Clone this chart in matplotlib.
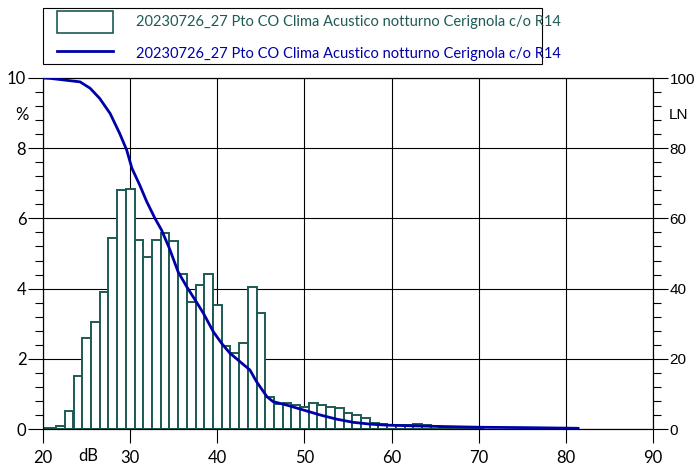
import matplotlib
matplotlib.use("Agg")
import matplotlib.pyplot as plt
from matplotlib.ticker import MultipleLocator
from matplotlib.patches import Patch, Rectangle
from matplotlib.lines import Line2D

# histogram: level class (dB) and share of time (%)
hist_db = list(range(20, 71))
hist_pct = [0.04, 0.04, 0.09, 0.52, 1.51, 2.58, 3.05, 3.89, 5.43, 6.80,
            6.83, 5.39, 4.90, 5.38, 5.57, 5.37, 4.42, 3.62, 4.11, 4.42,
            3.53, 2.37, 2.17, 2.44, 4.04, 3.31, 0.92, 0.70, 0.73, 0.69,
            0.62, 0.73, 0.69, 0.64, 0.61, 0.45, 0.39, 0.32, 0.18, 0.14,
            0.12, 0.10, 0.12, 0.14, 0.12, 0.08, 0.06, 0.05, 0.04, 0.03,
            0.02]

# LN curve (percent of time the level is exceeded)
ln_db = [20.0, 20.8, 24.25, 25.4, 26.5, 27.7, 28.8, 29.6, 30.2, 31.1,
         31.9, 32.85, 33.6, 34.5, 35.5, 36.5, 37.45, 38.4, 39.55, 40.5,
         41.45, 42.6, 43.75, 44.5, 45.2, 45.7, 46.4, 48.0, 49.9, 51.8,
         53.7, 55.6, 57.5, 59.4, 61.0, 65.0, 70.0, 75.0, 80.0, 81.4]
ln_val = [100.0, 99.9, 98.9, 97.1, 94.2, 89.9, 84.2, 79.5, 74.3, 69.5,
          64.8, 60.0, 56.7, 51.5, 44.8, 40.5, 36.8, 33.0, 27.7, 24.4,
          21.6, 19.2, 16.8, 13.5, 11.0, 9.2, 7.8, 6.8, 5.4, 4.0,
          2.8, 1.9, 1.4, 1.1, 1.0, 0.75, 0.5, 0.4, 0.25, 0.2]

label = "20230726_27 Pto CO Clima Acustico notturno Cerignola c/o R14"
teal = "#1d5a55"
blue = "#0000a8"
left_font = "Lato"
W, H = 695, 469

fig = plt.figure(figsize=(6.95, 4.69), dpi=100)
ax = fig.add_axes([43 / W, 40 / H, 610 / W, 351 / H])

ax.bar(hist_db, hist_pct, width=1.0, facecolor="white", edgecolor=teal,
       linewidth=1.4, zorder=2)
ax.set_xlim(20, 90)
ax.set_ylim(0, 10)
ax.xaxis.set_major_locator(MultipleLocator(10))
ax.yaxis.set_major_locator(MultipleLocator(2))
ax.yaxis.set_minor_locator(MultipleLocator(0.4))
ax.grid(True, which="major", color="black", linewidth=0.8, zorder=1)
ax.set_axisbelow(True)
ax.tick_params(axis="y", which="major", direction="out", length=11, width=0.8, pad=1,
               labelsize=12, colors="black")
ax.tick_params(axis="y", which="minor", direction="out", length=6, width=0.8)
ax.tick_params(axis="x", which="major", direction="out", length=10, width=0.8, pad=5,
               labelsize=12)
for t in ax.get_xticklabels() + ax.get_yticklabels():
    t.set_family(left_font)
for s in ax.spines.values():
    s.set_linewidth(0.8)

ax2 = ax.twinx()
ax2.plot(ln_db, ln_val, color=blue, linewidth=2.0, zorder=3)
ax2.set_ylim(0, 100)
ax2.yaxis.set_major_locator(MultipleLocator(20))
ax2.yaxis.set_minor_locator(MultipleLocator(4))
ax2.tick_params(axis="y", which="major", direction="out", length=11, width=0.8, pad=1,
                labelsize=11)
ax2.tick_params(axis="y", which="minor", direction="out", length=6, width=0.8)
for t in ax2.get_yticklabels():
    t.set_family("Liberation Sans")

fig.text(22 / W, 1 - 115 / H, "%", ha="center", va="center", fontsize=12, family=left_font)
fig.text(678 / W, 1 - 115 / H, "LN", ha="center", va="center", fontsize=11,
         family="Liberation Sans")
fig.text(88 / W, 1 - 456 / H, "dB", ha="center", va="center", fontsize=12, family=left_font)

# legend frame drawn separately (the text runs past it in the reference)
fig.patches.append(Rectangle((43 / W, 1 - 64 / H), 499 / W, 56 / H, transform=fig.transFigure,
                             facecolor="white", edgecolor="black", linewidth=0.8, zorder=0))
handles = [Patch(facecolor="white", edgecolor=teal, linewidth=1.2),
           Line2D([], [], color=blue, linewidth=2.0)]
leg = fig.legend(handles, [label, label], loc="upper left",
                 bbox_to_anchor=(57 / W, 1 - 11 / H), frameon=False, borderaxespad=0,
                 borderpad=0, prop={"family": left_font, "size": 10.5}, handlelength=3.85,
                 handleheight=1.9, handletextpad=1.6, labelspacing=0.7)
leg.get_texts()[0].set_color(teal)
leg.get_texts()[1].set_color(blue)

fig.savefig("out.png", dpi=100)
